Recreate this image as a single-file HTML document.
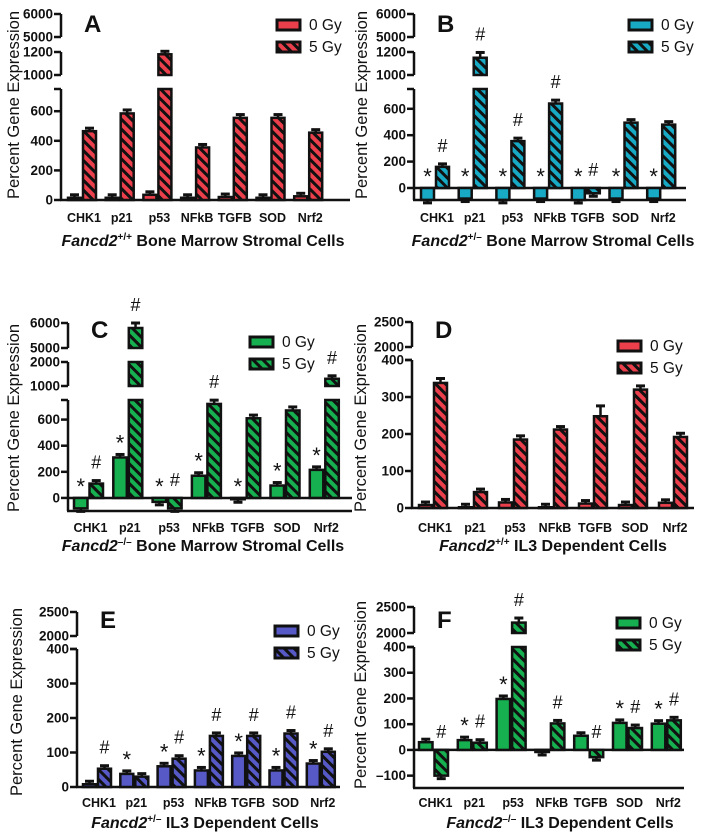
<!DOCTYPE html>
<html><head><meta charset="utf-8"><style>
html,body{margin:0;padding:0;background:#fff}
svg{display:block;font-family:"Liberation Sans",Arial,sans-serif}
</style></head><body>
<svg id="fig" width="704" height="838" viewBox="0 0 704 838" xmlns="http://www.w3.org/2000/svg">
<defs id="defs"></defs>
</svg>
<script>
const categories = ["CHK1","p21","p53","NFkB","TGFB","SOD","Nrf2"];
// Panel A
const aCtrl = [15,15,35,15,20,15,25];
const aIrr  = [465,585,1180,355,555,555,455];
// Panel B
const bCtrl = [-90,-80,-90,-80,-95,-80,-80];
const bIrr  = [160,1150,355,640,-40,495,480];
const bStar = [1,1,1,1,1,1,1];
const bHash = [1,1,1,1,1,0,0];
// Panel C
const cCtrl = [-80,310,-30,170,-10,95,215];
const cIrr  = [110,5800,-80,720,610,670,1300];
const cStar = [1,1,1,1,1,1,1];
const cHash = [1,1,1,1,0,0,1];
// Panel D
const dCtrl = [8,2,15,2,12,8,14];
const dIrr  = [338,43,185,212,248,320,192];
const dIrrErr = [12,5,10,5,28,10,10];
// Panel E
const eCtrl = [8,38,60,48,90,48,68];
const eIrr  = [53,30,82,148,148,155,102];
const eStar = [0,1,1,1,1,1,1];
const eHash = [1,0,1,1,1,1,1];
// Panel F
const fCtrl = [30,38,198,-8,55,105,102];
const fIrr  = [-100,28,2200,103,-28,85,115];
const fStar = [0,1,1,0,0,1,1];
const fHash = [1,1,1,1,1,1,1];

const NS="http://www.w3.org/2000/svg";
const svg=document.getElementById('fig');
const defs=document.getElementById('defs');
function mk(tag,attrs,parent){const e=document.createElementNS(NS,tag);for(const k in attrs)e.setAttribute(k,attrs[k]);(parent||svg).appendChild(e);return e;}

const colors={red:"#ec3f4c",teal:"#18a9c4",green:"#17b050",purple:"#5659c6"};
for(const c in colors){
  const p=mk('pattern',{id:'h-'+c,width:7,height:7,patternUnits:'userSpaceOnUse',patternTransform:'rotate(-45)'},defs);
  mk('rect',{x:0,y:0,width:7,height:7,fill:colors[c]},p);
  mk('rect',{x:0,y:0,width:3,height:7,fill:'#111'},p);
}

function panel(cfg){
  const g=mk('g',{});
  
  
  const segs=cfg.segs;
  function segOf(v){for(const s of segs){if(v>=s.lo-1e-9&&v<=s.hi+1e-9)return s;}return null;}
  function Y(s,v){return s.y0+(v-s.lo)*(s.y1-s.y0)/(s.hi-s.lo);}
  function yAny(v){
    if(v<segs[0].lo)return Y(segs[0],segs[0].lo);
    let s=segOf(v);if(s)return Y(s,v);
    let best=segs[0];for(const t of segs){if(t.hi<=v)best=t;}return Y(best,best.hi);}
  const zeroSeg=segs[0];
  segs.forEach((s,i)=>{
    const l=mk('line',{x1:cfg.ax,x2:cfg.ax,y1:s.y0,y2:s.y1,stroke:'#111','stroke-width':2.5},g);
    
    
    s.ticks.forEach(t=>{
      const yy=Y(s,t);
      mk('line',{x1:cfg.ax-7,x2:cfg.ax,y1:yy,y2:yy,stroke:'#111','stroke-width':2.5},g);
      const tx=mk('text',{x:cfg.ax-8,y:yy+4.5,'text-anchor':'end','font-size':13.5,'font-weight':'bold',fill:'#111'},g);
      tx.textContent=(t<0?'\u2013'+Math.abs(t):String(t));
      
      
    });
    if(i===0){const yy=Y(s,s.hi);mk('line',{x1:cfg.ax-7,x2:cfg.ax,y1:yy,y2:yy,stroke:'#111','stroke-width':2.5},g);}
  });
  const bottomY=Y(zeroSeg,zeroSeg.lo);
  const xa=mk('line',{x1:cfg.ax-1,x2:cfg.xEnd,y1:bottomY,y2:bottomY,stroke:'#111','stroke-width':2.5},g);
  
  
  const zy=Y(zeroSeg,0);
  if(zeroSeg.lo<0){mk('line',{x1:cfg.ax,x2:cfg.xEnd,y1:zy,y2:zy,stroke:'#111','stroke-width':2.5},g);}
  const series=[{vals:cfg.ctrl,fill:colors[cfg.color],mark:cfg.star,sym:'*',name:'0gy'},
                {vals:cfg.irr,fill:'url(#h-'+cfg.color+')',mark:cfg.hash,sym:'#',name:'5gy'}];
  categories.forEach((cat,i)=>{
    const gx=cfg.bar0+i*cfg.sp;
    series.forEach((se,k)=>{
      const v=se.vals[i];
      const x=gx+k*(cfg.bw+2);
      const lo=Math.min(0,v),hi=Math.max(0,v);
      segs.forEach(s=>{
        const a=Math.max(lo,s.lo),b=Math.min(hi,s.hi);
        if(b>a){
          const ya=Y(s,a),yb=Y(s,b);
          const r=mk('rect',{x:x,y:Math.min(ya,yb),width:cfg.bw,height:Math.max(0.8,Math.abs(ya-yb)),fill:se.fill,stroke:'#111','stroke-width':2.5},g);
          
          
        }
      });
      let err=(k===1&&cfg.irrErr)?cfg.irrErr[i]:Math.max(6,Math.abs(v)*0.04);
      const dir=v>=0?1:-1;
      const yv=yAny(v),ye=yAny(v+dir*err);
      const ey=(Math.abs(ye-yv)<3)?yv-dir*3:ye;
      mk('line',{x1:x+cfg.bw/2,x2:x+cfg.bw/2,y1:yv,y2:ey,stroke:'#111','stroke-width':2.5},g);
      mk('line',{x1:x+cfg.bw/2-4.5,x2:x+cfg.bw/2+4.5,y1:ey,y2:ey,stroke:'#111','stroke-width':3},g);
      if(se.mark&&se.mark[i]){
        const top=Math.min(zy,ey,yv);
        const t=mk('text',{x:x+cfg.bw/2,y:se.sym==='*'?top-4:top-12,'text-anchor':'middle','font-size':se.sym==='*'?22:18,fill:'#111'},g);
        t.textContent=se.sym;
        
        
      }
    });
    const lab=mk('text',{x:gx+cfg.bw+3,y:cfg.labY,'text-anchor':'middle','font-size':12.5,'font-weight':'bold',fill:'#111'},g);
    lab.textContent=cat;
    
    
  });
  const L=mk('text',{x:cfg.ax+23,y:cfg.letterY,'font-size':24,'font-weight':'bold',fill:'#111'},g);
  L.textContent=cfg.letter;
  
  
  const lg=mk('g',{},g);
  
  
  [['0 Gy',colors[cfg.color]],['5 Gy','url(#h-'+cfg.color+')']].forEach((e,j)=>{
    const yy=cfg.legY+j*22;
    const r=mk('rect',{x:cfg.legX,y:yy,width:23,height:10,fill:e[1],stroke:'#111','stroke-width':3},lg);
    
    
    const t=mk('text',{x:cfg.legX+32,y:yy+10,'font-size':15.5,fill:'#111'},lg);
    t.textContent=e[0];
    
    
  });
  const yt=mk('text',{x:0,y:0,transform:'translate('+(cfg.ytX)+','+cfg.ytY+') rotate(-90)','text-anchor':'middle','font-size':16.5,fill:'#111'},g);
  yt.textContent='Percent Gene Expression';
  
  
  const xt=mk('text',{x:cfg.titleX,y:cfg.titleY,'text-anchor':'middle','font-size':16,'font-weight':'bold',fill:'#111'},g);
  
  
  const t1=mk('tspan',{'font-style':'italic'},xt);t1.textContent='Fancd2';
  const t2=mk('tspan',{'font-size':10,dy:-6},xt);t2.textContent=cfg.geno;
  const t3=mk('tspan',{dy:6},xt);t3.textContent=' '+cfg.cells;
}

panel({letter:'A',color:'red',ctrl:aCtrl,irr:aIrr,star:null,hash:null,ax:61,bar0:68,sp:37.7,bw:13,xEnd:350,
  segs:[{lo:0,hi:750,y0:200,y1:89,ticks:[0,200,400,600]},{lo:1000,hi:1200,y0:75,y1:52,ticks:[1000,1200]},{lo:5000,hi:6000,y0:37,y1:14,ticks:[5000,6000]}],
  labY:222,letterY:32,legX:277,legY:20,ytX:19,ytY:105,titleX:203,titleY:246,geno:'+/+',cells:'Bone Marrow Stromal Cells'});
panel({letter:'B',color:'teal',ctrl:bCtrl,irr:bIrr,star:bStar,hash:bHash,ax:414,bar0:421,sp:37.7,bw:13,xEnd:686,
  segs:[{lo:-91,hi:750,y0:200,y1:89,ticks:[0,200,400,600]},{lo:1000,hi:1200,y0:75,y1:52,ticks:[1000,1200]},{lo:5000,hi:6000,y0:37,y1:14,ticks:[5000,6000]}],
  labY:222,letterY:32,legX:629,legY:20,ytX:367,ytY:105,titleX:553,titleY:246,geno:'+/\u2013',cells:'Bone Marrow Stromal Cells'});
panel({letter:'C',color:'green',ctrl:cCtrl,irr:cIrr,star:cStar,hash:cHash,ax:68,bar0:74,sp:39.3,bw:13.5,xEnd:352,
  segs:[{lo:-100,hi:750,y0:511,y1:400,ticks:[0,200,400,600]},{lo:1000,hi:2000,y0:386,y1:362,ticks:[1000,2000]},{lo:5000,hi:6000,y0:348,y1:323,ticks:[5000,6000]}],
  labY:532,letterY:338,legX:250,legY:337,ytX:19,ytY:418,titleX:203,titleY:551,geno:'\u2013/\u2013',cells:'Bone Marrow Stromal Cells'});
panel({letter:'D',color:'red',ctrl:dCtrl,irr:dIrr,irrErr:dIrrErr,star:null,hash:null,ax:412,bar0:419,sp:40,bw:13,xEnd:694,
  segs:[{lo:0,hi:400,y0:508,y1:360,ticks:[0,100,200,300,400]},{lo:2000,hi:2500,y0:347,y1:322,ticks:[2000,2500]}],
  labY:532,letterY:338,legX:618,legY:341,ytX:366,ytY:418,titleX:553,titleY:551,geno:'+/+',cells:'IL3 Dependent Cells'});
panel({letter:'E',color:'purple',ctrl:eCtrl,irr:eIrr,star:eStar,hash:eHash,ax:77,bar0:83,sp:37.3,bw:13,xEnd:340,
  segs:[{lo:0,hi:400,y0:787,y1:649,ticks:[0,100,200,300,400]},{lo:2000,hi:2500,y0:636,y1:612,ticks:[2000,2500]}],
  labY:807,letterY:628,legX:275,legY:626,ytX:22,ytY:702,titleX:205,titleY:828,geno:'+/\u2013',cells:'IL3 Dependent Cells'});
panel({letter:'F',color:'green',ctrl:fCtrl,irr:fIrr,star:fStar,hash:fHash,ax:414,bar0:419,sp:38.8,bw:13.5,xEnd:684,
  segs:[{lo:-148,hi:400,y0:788,y1:647,ticks:[-100,0,100,200,300,400]},{lo:2000,hi:2500,y0:633,y1:607,ticks:[2000,2500]}],
  labY:807,letterY:628,legX:617,legY:618,ytX:366,ytY:695,titleX:560,titleY:828,geno:'\u2013/\u2013',cells:'IL3 Dependent Cells'});
</script>
</body></html>
